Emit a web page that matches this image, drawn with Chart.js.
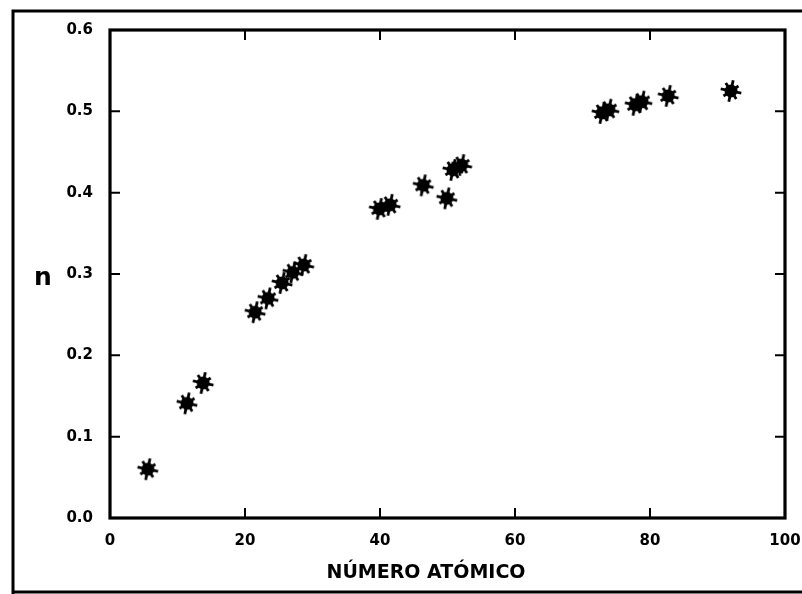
<!DOCTYPE html>
<html>
<head>
<meta charset="utf-8">
<script src="https://cdn.jsdelivr.net/npm/chart.js@4"></script>
<style>
html,body{margin:0;padding:0;background:#fff;}
#wrap{width:802px;height:594px;position:relative;}
</style>
</head>
<body>
<div id="wrap"><canvas id="c" width="802" height="594"></canvas></div>
<script>
const atomicNumber = [5.6, 11.4, 13.8, 21.5, 23.4, 25.5, 27.1, 28.7, 39.9, 41.5, 46.4, 49.9, 50.8, 52.1, 72.9, 73.9, 77.8, 78.8, 82.7, 92.0];
const nValues = [0.060, 0.141, 0.166, 0.253, 0.270, 0.289, 0.302, 0.311, 0.380, 0.385, 0.409, 0.393, 0.428, 0.434, 0.498, 0.502, 0.508, 0.512, 0.519, 0.525];
const xTickLabels = ["0", "20", "40", "60", "80", "100"];
const yTickLabels = ["0.0", "0.1", "0.2", "0.3", "0.4", "0.5", "0.6"];
const xTitle = "NÚMERO ATÓMICO";
const yTitle = "n";

// star marker image
function makeStar(){
  const s = 24, c = document.createElement('canvas');
  c.width = s; c.height = s;
  const g = c.getContext('2d');
  const m = s/2;
  g.fillStyle = '#000'; g.strokeStyle = '#000';
  g.beginPath(); g.arc(m, m, 6.5, 0, Math.PI*2); g.fill();
  g.lineWidth = 2.8; g.lineCap = 'butt';
  const len = [10.5, 9.5, 11, 9, 10.5, 9.5, 11, 9];
  for (let i = 0; i < 8; i++) {
    const a = i * Math.PI / 4 + 0.2;
    g.beginPath();
    g.moveTo(m, m);
    g.lineTo(m + Math.cos(a) * len[i], m + Math.sin(a) * len[i]);
    g.stroke();
  }
  return c;
}
const star = makeStar();

const framePlugin = {
  id: 'frame',
  beforeDraw(chart) {
    const ctx = chart.ctx;
    ctx.save();
    ctx.fillStyle = '#fff';
    ctx.fillRect(0, 0, chart.width, chart.height);
    ctx.strokeStyle = '#000';
    ctx.lineWidth = 3;
    ctx.beginPath();
    ctx.moveTo(13, 594); ctx.lineTo(13, 11); ctx.lineTo(802, 11);
    ctx.moveTo(13, 592); ctx.lineTo(802, 592);
    ctx.stroke();
    ctx.restore();
  },
  afterDraw(chart) {
    const ctx = chart.ctx, a = chart.chartArea;
    const xs = chart.scales.x, ys = chart.scales.y;
    ctx.save();
    ctx.strokeStyle = '#000';
    ctx.lineWidth = 3.2;
    ctx.strokeRect(a.left, a.top, a.right - a.left, a.bottom - a.top);
    ctx.lineWidth = 2;
    ctx.beginPath();
    ys.ticks.forEach(t => {
      const y = ys.getPixelForValue(t.value);
      ctx.moveTo(a.left, y); ctx.lineTo(a.left + 10, y);
      ctx.moveTo(a.right, y); ctx.lineTo(a.right - 10, y);
    });
    xs.ticks.forEach(t => {
      const x = xs.getPixelForValue(t.value);
      ctx.moveTo(x, a.bottom); ctx.lineTo(x, a.bottom - 10);
      ctx.moveTo(x, a.top); ctx.lineTo(x, a.top + 10);
    });
    ctx.stroke();
    ctx.fillStyle = '#000';
    ctx.textAlign = 'center';
    ctx.textBaseline = 'alphabetic';
    // y title (horizontal)
    ctx.font = 'bold 25px "DejaVu Sans"';
    ctx.fillText(yTitle, 43, 285);
    // x title
    ctx.font = 'bold 19px "DejaVu Sans"';
    ctx.fillText(xTitle, 426, 578);
    ctx.restore();
  }
};

new Chart(document.getElementById('c'), {
  type: 'scatter',
  data: {
    datasets: [{
      data: atomicNumber.map((x, i) => ({x: x, y: nValues[i]})),
      pointStyle: star,
      pointRadius: 11,
      pointHoverRadius: 11
    }]
  },
  options: {
    responsive: false,
    animation: false,
    events: [],
    layout: {padding: {top: 30, right: 17, left: 0, bottom: 0}},
    plugins: {legend: {display: false}, tooltip: {enabled: false}},
    scales: {
      x: {
        type: 'linear', min: 0, max: 100,
        afterFit: s => { s.height = 76; s.paddingRight = 0; s.paddingLeft = 0; },
        afterBuildTicks: s => { s.ticks = xTickLabels.map(v => ({value: Number(v)})); },
        ticks: {
          callback: (v, i) => xTickLabels[i],
          color: '#000', padding: 14, maxRotation: 0,
          font: {family: 'DejaVu Sans', weight: 'bold', size: 15}
        },
        grid: {display: false, drawTicks: false},
        border: {display: false}
      },
      y: {
        type: 'linear', min: 0, max: 0.6,
        afterFit: s => { s.width = 110; s.paddingTop = 0; s.paddingBottom = 0; },
        afterBuildTicks: s => { s.ticks = yTickLabels.map(v => ({value: Number(v)})); },
        ticks: {
          callback: (v, i) => yTickLabels[i],
          color: '#000', padding: 17,
          font: {family: 'DejaVu Sans', weight: 'bold', size: 15}
        },
        grid: {display: false, drawTicks: false},
        border: {display: false}
      }
    }
  },
  plugins: [framePlugin]
});
</script>
</body>
</html>
